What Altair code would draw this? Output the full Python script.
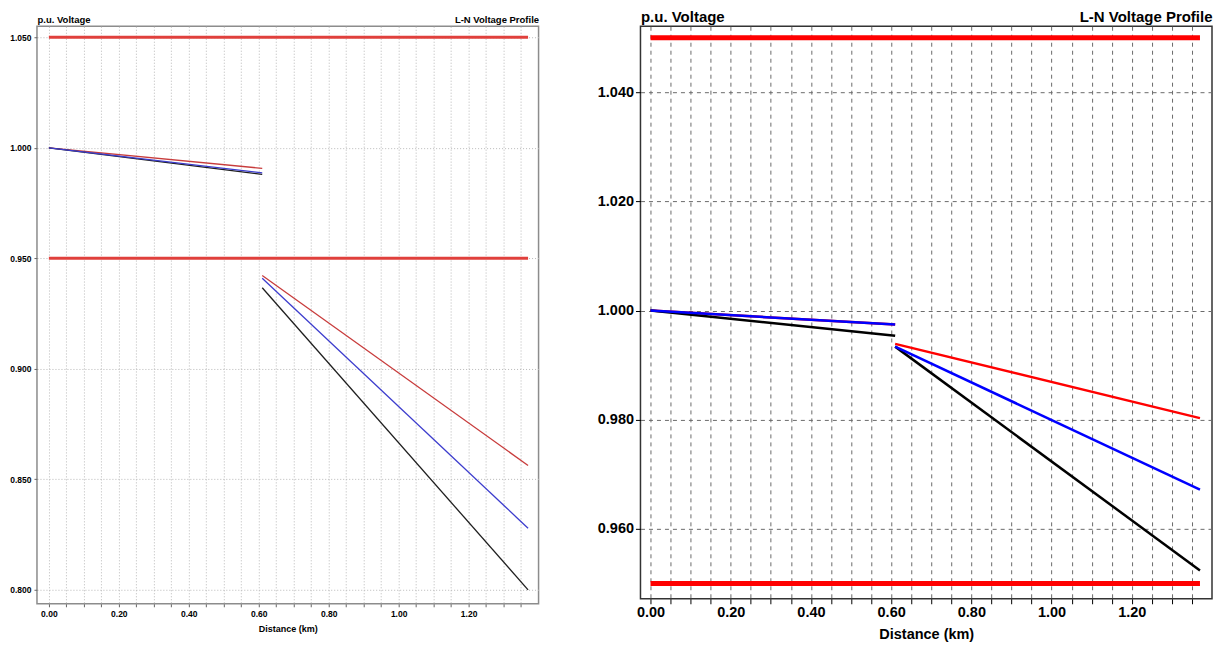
import altair as alt
import pandas as pd

# ---------------- data ----------------
phases = ["Phase A", "Phase C", "Phase B"]          # drawn in this order
seg1_dist = [0.0, 0.61]
seg2_dist = [0.61, 1.37]
limit_dist = [0.0, 1.37]
limit_values = [1.05, 0.95]

# left panel (p.u.)
left_seg1 = {"Phase A": [1.000, 0.9907], "Phase B": [1.000, 0.9887], "Phase C": [1.000, 0.9880]}
left_seg2 = {"Phase A": [0.9422, 0.8563], "Phase B": [0.9410, 0.8279], "Phase C": [0.9367, 0.8000]}
# right panel (p.u.)
right_seg1 = {"Phase A": [1.000, 0.99747], "Phase B": [1.000, 0.99745], "Phase C": [1.000, 0.9954]}
right_seg2 = {"Phase A": [0.9939, 0.9803], "Phase B": [0.9934, 0.9672], "Phase C": [0.9934, 0.9524]}

x_tick_values = [round(i * 0.05, 2) for i in range(28)]
left_y_ticks = [0.80, 0.85, 0.90, 0.95, 1.00, 1.05]
right_y_ticks = [0.96, 0.98, 1.00, 1.02, 1.04]

FONT = "Liberation Sans, Arial, sans-serif"


def build_lines(s1, s2):
    rows = []
    for ph in phases:
        for seg, xs, ys in (("s1", seg1_dist, s1[ph]), ("s2", seg2_dist, s2[ph])):
            for x, y in zip(xs, ys):
                rows.append({"phase": ph, "seg": seg, "dist": x, "volt": y})
    return pd.DataFrame(rows)


def build_limits():
    rows = []
    for i, v in enumerate(limit_values):
        for x in limit_dist:
            rows.append({"lim": f"L{i}", "dist": x, "volt": v})
    return pd.DataFrame(rows)


def panel(s1, s2, W, H, xdom, ydom, yvals, st):
    xscale = alt.Scale(domain=xdom, nice=False, zero=False)
    yscale = alt.Scale(domain=ydom, nice=False, zero=False)
    xaxis = alt.Axis(
        values=x_tick_values,
        labelExpr="round(datum.value*100) % 20 == 0 ? format(datum.value, '.2f') : ''",
        labelOverlap=False, labelFlush=False,
        grid=True, gridColor=st["grid"], gridDash=st["dash"], gridWidth=1,
        ticks=True, tickSize=st["tick"], tickColor=st["tickc"], domain=False,
        labelFontSize=st["lab"], labelFontWeight="bold", labelColor="#000", labelPadding=st["lpad"],
        title="Distance (km)", titleFontSize=st["xt"], titleFontWeight="bold",
        titleColor="#000", titlePadding=st["tpad"],
    )
    yaxis = alt.Axis(
        values=yvals, format=".3f", labelOverlap=False, labelFlush=False,
        grid=True, gridColor=st["grid"], gridDash=st["dash"], gridWidth=1,
        ticks=True, tickSize=st["tick"], tickColor=st["tickc"], domain=False,
        labelFontSize=st["lab"], labelFontWeight="bold", labelColor="#000", labelPadding=st["lpad"],
        title="p.u. Voltage", titleAngle=0, titleAlign="left", titleBaseline="bottom",
        titleX=0, titleY=-2, titleFontSize=st["tt"], titleFontWeight="bold", titleColor="#000",
    )
    top_axis = alt.Axis(
        orient="top", labels=False, ticks=False, domain=False, grid=False,
        title="L-N Voltage Profile", titleAngle=0, titleAlign="right", titleBaseline="bottom",
        titleX=W, titleY=-2, titleFontSize=st["tt"], titleFontWeight="bold", titleColor="#000",
    )
    limits = alt.Chart(build_limits()).mark_line(
        color=st["limc"], strokeWidth=st["limw"]
    ).encode(
        x=alt.X("dist:Q", scale=xscale, axis=top_axis),
        y=alt.Y("volt:Q", scale=yscale, axis=yaxis),
        detail="lim:N",
    )
    lines = alt.Chart(build_lines(s1, s2)).mark_line(strokeWidth=st["linew"]).encode(
        x=alt.X("dist:Q", scale=xscale, axis=xaxis),
        y=alt.Y("volt:Q", scale=yscale, axis=yaxis),
        color=alt.Color("phase:N", scale=alt.Scale(domain=["Phase A", "Phase B", "Phase C"],
                                                   range=st["colors"]), legend=None),
        detail="seg:N",
        order="dist:Q",
    )
    return alt.layer(limits, lines).resolve_axis(x="independent").properties(
        width=W, height=H,
        view=alt.ViewBackground(stroke=st["frame"], strokeWidth=1.5, fill="white"),
    )


left_style = dict(grid="#b8b8b8", dash=[1, 2], tick=3, tickc="#666", lab=8.5, lpad=3, xt=9,
                  tpad=6, tt=9.5, limc="#e0403c", limw=3, linew=1.3, frame="#8c8c8c",
                  colors=["#c83c3c", "#3c3ccd", "#1e1e1e"])
right_style = dict(grid="#6a6a6a", dash=[4, 4], tick=5, tickc="#000", lab=14.5, lpad=2, xt=14.5,
                   tpad=8, tt=15, limc="#ff0000", limw=5, linew=2.5, frame="#333333",
                   colors=["#ff0000", "#0000ff", "#000000"])

left = panel(left_seg1, left_seg2, 502, 578, [-0.034, 1.40], [0.7937, 1.055], left_y_ticks, left_style)
right = panel(right_seg1, right_seg2, 572, 573, [-0.025, 1.40], [0.9472, 1.0521], right_y_ticks, right_style)

chart = alt.hconcat(left, right, spacing=56).resolve_scale(color="independent").properties(
    padding={"left": 0, "top": 0, "right": 0, "bottom": 0},
    background="white",
).configure_axis(labelFont=FONT, titleFont=FONT)

chart.save("out.html", embed_options={"renderer": "svg", "actions": False})
